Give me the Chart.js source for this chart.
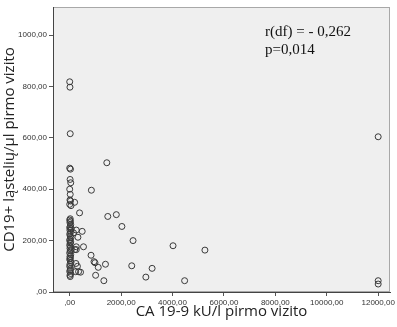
<!DOCTYPE html>
<html>
<head>
<meta charset="utf-8">
<script src="https://cdn.jsdelivr.net/npm/chart.js@4/dist/chart.umd.min.js"></script>
<style>
  html, body { margin: 0; padding: 0; background: #fff; }
  #wrap { width: 397px; height: 327px; }
</style>
</head>
<body>
<div id="wrap"><canvas id="scatter"></canvas></div>
<script>
// CA 19-9 (kU/l) vs CD19+ cells/ul at first visit
const caValues = [
  0, 10, 20, 0, 30, 15, 40, 0, 20, 10, 30, 0, 50, 20,
  0, 30, 10, 40, 20, 0, 60, 10, 30, 0, 20, 50, 10, 0, 40, 20,
  0, 30, 10, 60, 20, 0, 40, 10, 30, 0, 20, 50, 10, 0, 30, 20, 0, 40, 10, 20,
  191, 383, 256, 486, 319, 536, 256, 256, 830, 983, 1110, 1391, 2413, 1008,
  1328, 2962, 345, 421, 3205, 2464, 4020, 4470, 5260, 843, 1443, 1481,
  1813, 2030, 242, 230, 945, 150, 200, 300, 12000, 12000, 12000
];
const cd19Values = [
  818, 797, 616, 482, 478, 438, 425, 400, 380, 358, 354, 341, 336, 285,
  280, 275, 270, 262, 255, 250, 245, 240, 232, 225, 218, 212, 205, 200, 195, 190,
  182, 176, 170, 165, 160, 152, 145, 138, 132, 128, 122, 115, 108, 100, 92, 85, 80, 72, 65, 60,
  349, 308, 241, 236, 213, 176, 176, 165, 143, 114, 96, 108, 102, 65,
  44, 58, 79, 77, 92, 200, 180, 44, 163, 396, 503, 294,
  301, 255, 111, 79, 118, 230, 165, 100, 604, 44, 31
];
const xTicks = [0, 2000, 4000, 6000, 8000, 10000, 12000];
const yTicks = [0, 200, 400, 600, 800, 1000];
const statLines = ['r(df) = - 0,262', 'p=0,014'];

const points = caValues.map((x, i) => ({ x: x, y: cd19Values[i] }));

function fmt(v) {
  return v === 0 ? ',00' : v + ',00';
}

// grey plot panel with a light frame, stats text on top
const panel = {
  id: 'panel',
  beforeDraw(chart) {
    const { ctx, chartArea: a } = chart;
    ctx.save();
    ctx.fillStyle = '#efefef';
    ctx.fillRect(a.left, a.top, a.right - a.left, a.bottom - a.top);
    ctx.strokeStyle = '#a8a8a8';
    ctx.lineWidth = 1;
    ctx.strokeRect(a.left + 0.5, a.top + 0.5, a.right - a.left - 1, a.bottom - a.top - 1);
    ctx.restore();
  },
  afterDraw(chart) {
    const { ctx } = chart;
    ctx.save();
    ctx.fillStyle = '#111';
    ctx.font = '15px "Liberation Serif", "DejaVu Serif", serif';
    ctx.textBaseline = 'middle';
    ctx.fillText(statLines[0], 265, 32);
    ctx.fillText(statLines[1], 265, 50);
    ctx.restore();
  }
};

new Chart(document.getElementById('scatter'), {
  type: 'scatter',
  data: {
    datasets: [{
      data: points,
      pointRadius: 3,
      pointHoverRadius: 3,
      borderColor: '#3a3a3a',
      borderWidth: 1,
      backgroundColor: 'rgba(0,0,0,0)'
    }]
  },
  options: {
    responsive: true,
    maintainAspectRatio: false,
    animation: false,
    layout: { padding: { top: 7, right: 2, left: 0, bottom: 0 } },
    plugins: { legend: { display: false }, tooltip: { enabled: false } },
    scales: {
      x: {
        type: 'linear',
        min: -650,
        max: 12460,
        afterBuildTicks: s => { s.ticks = xTicks.map(v => ({ value: v })); },
        afterFit: s => { s.height = 35; },
        grid: { drawOnChartArea: false, drawTicks: true, tickLength: 4, color: '#555' },
        border: { display: true, color: '#444' },
        ticks: {
          autoSkip: false, maxRotation: 0, padding: 2,
          color: '#333', font: { family: 'Arial, "Liberation Sans", sans-serif', size: 8 },
          callback: v => fmt(v)
        },
        title: {
          display: true, text: 'CA 19-9 kU/l pirmo vizito',
          color: '#222', padding: { top: 2, bottom: 6 },
          font: { family: '"Open Sans", sans-serif', size: 15 }
        }
      },
      y: {
        type: 'linear',
        min: 0,
        max: 1109,
        afterBuildTicks: s => { s.ticks = yTicks.map(v => ({ value: v })); },
        afterFit: s => { s.width = 53; },
        grid: { drawOnChartArea: false, drawTicks: true, tickLength: 4, color: '#555' },
        border: { display: true, color: '#444' },
        ticks: {
          autoSkip: false, padding: 2,
          color: '#333', font: { family: 'Arial, "Liberation Sans", sans-serif', size: 8 },
          callback: v => fmt(v)
        },
        title: {
          display: true, text: 'CD19+ ląstelių/μl pirmo vizito',
          color: '#222', padding: { top: 1, bottom: 2 },
          font: { family: '"Open Sans", sans-serif', size: 15 }
        }
      }
    }
  },
  plugins: [panel]
});
</script>
</body>
</html>
